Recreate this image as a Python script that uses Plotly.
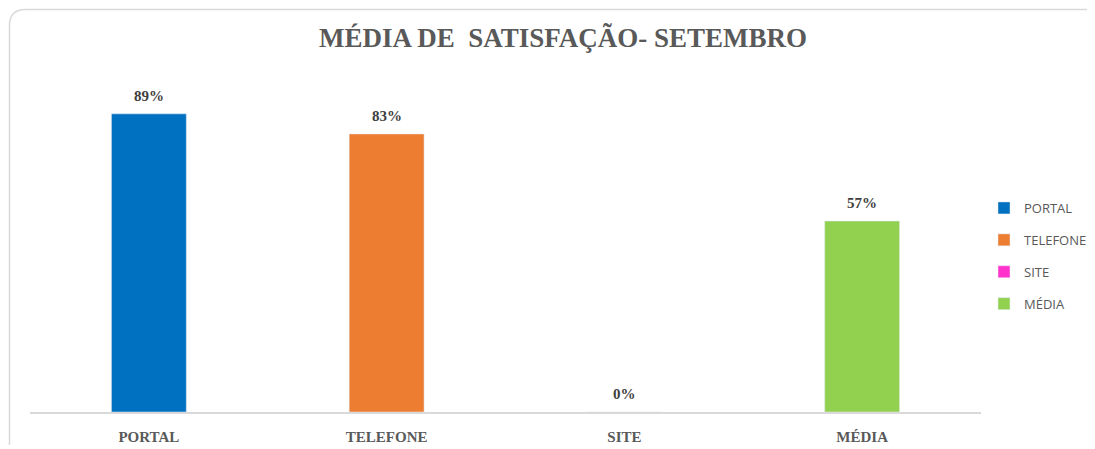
import plotly.graph_objects as go

categories = ["PORTAL", "TELEFONE", "SITE", "MÉDIA"]
values = [0.89, 0.83, 0.0, 0.57]
labels = ["89%", "83%", "0%", "57%"]
colors = ["#0070C0", "#ED7D31", "#FF33CC", "#92D050"]

OFF = 8  # page body margin of the browser
W, H = 1095 - OFF, 449 - OFF
# plot area in reference pixels: x 30..981, y 77..412
L = 30 - OFF
R = 1095 - 981
T = 77 - OFF
B = 449 - 412

fig = go.Figure()
for i, c in enumerate(categories):
    fig.add_trace(go.Bar(
        x=[c], y=[values[i]], name=c, marker_color=colors[i],
        width=0.315, legendgroup=c, cliponaxis=False,
    ))
    fig.add_annotation(x=c, y=values[i], text="<b>" + labels[i] + "</b>",
                       showarrow=False, yanchor="bottom", yshift=8,
                       font=dict(family="Liberation Serif", size=15, color="#404040"))

pw, ph = W - L - R, H - T - B
def px(x): return (x - OFF - L) / pw
def py(y): return (H - B - (y - OFF)) / ph
x0, y0, r = 9.5, 9.5, 16
path = (f"M {px(x0)},{py(445)} L {px(x0)},{py(y0+r)} "
        f"Q {px(x0)},{py(y0)} {px(x0+r)},{py(y0)} L {px(1100)},{py(y0)}")
fig.add_shape(type="path", path=path, xref="paper", yref="paper",
              line=dict(color="#D9D9D9", width=1.5), layer="below")

fig.update_layout(
    width=W, height=H,
    margin=dict(l=L, r=R, t=T, b=B, autoexpand=False),
    barmode="overlay",
    plot_bgcolor="white", paper_bgcolor="white",
    title=dict(text="<b>MÉDIA DE  SATISFAÇÃO- SETEMBRO</b>", xref="container",
               x=(563 - OFF) / W, xanchor="center",
               y=1 - (38 - OFF) / H, yanchor="middle",
               font=dict(family="Liberation Serif", size=27, color="#595959")),
    xaxis=dict(showline=True, linecolor="#D9D9D9", linewidth=1.5, ticks="",
               tickfont=dict(family="Liberation Serif", size=15, color="#595959"),
               tickprefix="<b>", ticksuffix="</b>", showgrid=False,
               ticklabelstandoff=10),
    yaxis=dict(range=[0, 1], visible=False, showgrid=False),
    legend=dict(x=px(984), y=py(193), xanchor="left", yanchor="top",
                font=dict(family="Open Sans", size=13, color="#595959"),
                tracegroupgap=12, itemwidth=30),
    showlegend=True,
)
fig.write_html("out.html")
